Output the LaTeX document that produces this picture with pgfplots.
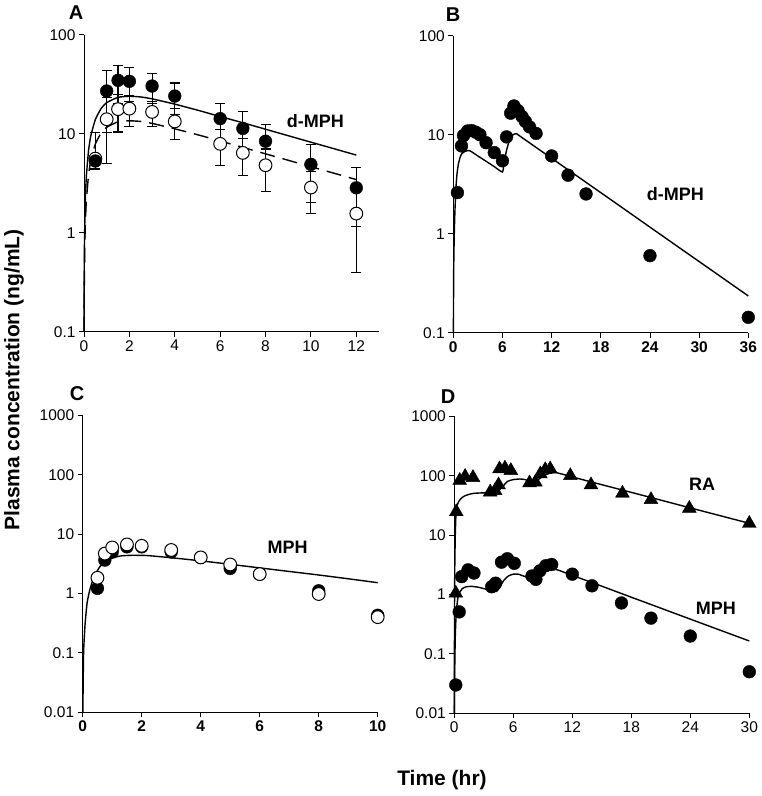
\documentclass[border=0pt]{standalone}
\usepackage{pgfplots}
\pgfplotsset{compat=1.18}
\usepackage{fontspec}
\setmainfont{Liberation Sans}
\pgfplotsset{
  mypanel/.style={
    scale only axis, width=295pt, height=297pt,
    anchor=south west,
    axis x line*=bottom, axis y line*=left,
    axis line style={-, line width=0.9pt},
    tick align=outside, major tick length=5pt,
    tick style={line width=0.9pt, black},
    yminorticks=false, xminorticks=false,
    tick label style={font=\fontsize{15.5}{17}\selectfont},
    clip=false,
  },
  myfit/.style={black, line width=1.4pt, no marks, smooth, tension=0.3},
  myfc/.style={only marks, mark=*, mark size=6.4pt, mark options={fill=black, draw=black}},
  myoc/.style={only marks, mark=*, mark size=6.4pt, mark options={fill=white, draw=black, line width=1pt}},
  myeb/.style={error bars/.cd, y dir=both, y explicit,
     error bar style={line width=1.1pt, black},
     error mark options={rotate=90, mark size=5pt, line width=1.1pt, black}},
}
\newcommand{\lab}{\fontsize{18}{20}\selectfont\bfseries}
\newcommand{\bigtitle}{\fontsize{21}{23}\selectfont\bfseries}
\begin{document}
\begin{tikzpicture}
\useasboundingbox (0,0) rectangle (762pt,796pt);

% ---------------- Panel A ----------------
\begin{axis}[mypanel, ymode=log, at={(84pt,464.3pt)},
  xmin=0, xmax=13, ymin=0.1, ymax=100,
  xtick={0,2,4,6,8,10,12}, xticklabels={0,2,4,6,8,10,12},
  ytick={0.1,1,10,100}, yticklabels={0.1,1,10,100}]
\addplot[myfit] coordinates {(0.0026,0.1)(0.01,0.384)(0.02,0.762)(0.05,1.87)(0.1,3.61)(0.2,6.76)(0.3,9.51)(0.5,13.9)(0.75,17.9)(1,20.6)(1.5,23.3)(2,23.9)(2.5,23.5)(3,22.5)(4,19.9)(5,17.3)(6,14.9)(7,12.9)(8,11.1)(9,9.54)(10,8.21)(11,7.07)(12,6.08)};
\addplot[myfit, dash pattern=on 15pt off 8pt] coordinates {(0.0046,0.1)(0.01,0.217)(0.02,0.431)(0.05,1.06)(0.1,2.04)(0.2,3.82)(0.3,5.37)(0.5,7.88)(0.75,10.1)(1,11.6)(1.5,13.2)(2,13.5)(2.5,13.3)(3,12.7)(4,11.2)(5,9.77)(6,8.44)(7,7.27)(8,6.26)(9,5.39)(10,4.64)(11,4.0)(12,3.44)};
\addplot[myoc, myeb] coordinates {
 (0.5,5.6) += (0,4.6) -= (0,0)
 (1,14) +- (0,9)
 (1.5,17.7) +- (0,7.3)
 (2,17.9) +- (0,6.2)
 (3,16.6) +- (0,4.7)
 (4,13.3) +- (0,4.6)
 (6,7.9) +- (0,3.1)
 (7,6.4) +- (0,2.6)
 (8,4.8) +- (0,2.2)
 (10,2.86) +- (0,1.3)
 (12,1.56) +- (0,1.16)};
\addplot[myfc, myeb] coordinates {
 (0.5,5.3) +- (0,0.9)
 (1,27) +- (0,16.7)
 (1.5,34.6) +- (0,14.5)
 (2,33.8) +- (0,12.7)
 (3,30.3) +- (0,10)
 (4,24) +- (0,8.5)
 (6,14.2) +- (0,5.9)
 (7,11.3) +- (0,5.3)
 (8,8.4) +- (0,4)
 (10,4.9) +- (0,2.9)
 (12,2.84) +- (0,1.68)};
\node[font=\lab] at (axis cs:10.2,13.3) {d-MPH};
\end{axis}

% ---------------- Panel B ----------------
\begin{axis}[mypanel, ymode=log, at={(453.3pt,463.3pt)},
  xmin=0, xmax=36, ymin=0.1, ymax=100,
  xtick={0,6,12,18,24,30,36}, xticklabels={0,6,12,18,24,30,36},
  x tick label style={font=\fontsize{15.5}{17}\selectfont\bfseries},
  ytick={0.1,1,10,100}, yticklabels={0.1,1,10,100}]
\addplot[myfit] coordinates {(0.01,0.1)(0.05,0.45)(0.12,1.0)(0.2,1.7)(0.32,2.9)(0.45,4.0)(0.61,5.0)(0.8,5.8)(1.0,6.35)(1.3,6.7)(1.6,6.85)(2.0,6.9)(3,6.1)(4,5.39)(5,4.76)(6.0,4.2)(6.2,5.3)(6.4,6.4)(6.7,8.0)(7.0,9.3)(7.3,10.0)(7.7,10.25)(8,9.85)(10,7.54)(12,5.78)(16,3.39)(20,1.99)(24,1.165)(28,0.683)(32,0.401)(36,0.235)};
\addplot[myfc] coordinates {(0.5,2.6)(1,7.7)(1.25,9.8)(1.75,10.9)(2.25,11)(2.75,10.6)(3.25,10.0)(4,8.3)(5,6.6)(6,5.45)(6.5,9.5)(7,16.5)(7.4,19.5)(7.9,17.5)(8.4,15.2)(8.8,13.6)(9.3,12)(10.1,10.3)(12,6.1)(14,3.9)(16.2,2.52)(24,0.6)(36,0.143)};
\node[font=\lab] at (axis cs:27.1,2.54) {d-MPH};
\end{axis}

% ---------------- Panel C ----------------
\begin{axis}[mypanel, ymode=log, at={(82.7pt,83.7pt)},
  xmin=0, xmax=10, ymin=0.01, ymax=1000,
  xtick={0,2,4,6,8,10}, xticklabels={0,2,4,6,8,10},
  x tick label style={font=\fontsize{15.5}{17}\selectfont\bfseries},
  ytick={0.01,0.1,1,10,100,1000}, yticklabels={0.01,0.1,1,10,100,1000}]
\addplot[myfit] coordinates {(0.005,0.01)(0.03,0.1)(0.08,0.3)(0.15,0.7)(0.25,1.2)(0.4,2.0)(0.6,2.9)(0.8,3.5)(1.0,3.95)(1.3,4.3)(1.7,4.4)(2.2,4.35)(3,4.0)(4,3.55)(5,3.1)(6,2.7)(7,2.35)(8,2.05)(9,1.77)(10,1.52)};
\addplot[myfc] coordinates {(0.5,1.22)(0.75,3.65)(1,5.0)(1.5,6.1)(2,6.1)(3,5.0)(4,4.05)(5,2.64)(6,2.12)(8,1.11)(10,0.43)};
\addplot[myoc] coordinates {(0.5,1.84)(0.75,4.7)(1,5.96)(1.5,6.7)(2,6.35)(3,5.4)(4,4.05)(5,3.08)(6,2.12)(8,0.98)(10,0.40)};
\node[font=\lab] at (axis cs:6.95,6.0) {MPH};
\end{axis}

% ---------------- Panel D ----------------
\begin{axis}[mypanel, ymode=log, at={(454.3pt,82.7pt)},
  xmin=0, xmax=30, ymin=0.01, ymax=1000,
  xtick={0,6,12,18,24,30}, xticklabels={0,6,12,18,24,30},
  ytick={0.01,0.1,1,10,100,1000}, yticklabels={0.01,0.1,1,10,100,1000}]
\addplot[myfit] coordinates {(0.005,0.01)(0.02,0.5)(0.05,3)(0.1,10)(0.17,22)(0.3,32)(0.5,38)(0.8,43)(1.1,46)(1.5,48.5)(2,50.5)(3,51.5)(3.6,51.5)(4.0,51)(4.3,52)(4.6,58)(5.0,68)(5.4,80)(6.0,86)(6.7,88)(7.2,86)(7.6,82)(8.0,80)(8.3,81)(8.7,90)(9.2,102)(9.7,110)(10.3,113)(11,106)(12,95.3)(15,70.6)(18,52.4)(21,38.8)(24,28.7)(27,21.3)(30,15.8)};
\addplot[myfit] coordinates {(0.01,0.01)(0.04,0.05)(0.1,0.2)(0.2,0.5)(0.35,0.85)(0.5,1.05)(0.8,1.25)(1.2,1.35)(1.8,1.37)(2.5,1.32)(3.2,1.23)(4.0,1.14)(4.3,1.13)(4.6,1.3)(5.0,1.7)(5.5,2.05)(6.0,2.2)(6.5,2.2)(7.2,2.0)(7.9,1.82)(8.2,1.85)(8.6,2.15)(9.0,2.45)(9.5,2.6)(10.0,2.66)(10.5,2.6)(12,2.1)(15,1.38)(18,0.9)(21,0.589)(24,0.385)(27,0.252)(30,0.165)};
\addplot[only marks, mark=triangle*, mark size=8pt, mark options={fill=black, draw=black}] coordinates {(0.15,1.05)(0.2,24.7)(0.55,83)(1.1,97)(1.9,93)(3.65,53)(4.15,56)(4.5,70)(4.6,130)(5.15,134)(5.75,122)(7.65,75.5)(8.25,77.6)(8.75,107)(9.25,126)(9.75,130)(11.8,100)(13.9,70)(17.1,50.6)(20.0,39.5)(23.9,28.2)(30,15.7)};
\addplot[myfc] coordinates {(0.15,0.03)(0.5,0.51)(0.75,2.0)(1.4,2.6)(2.0,2.3)(3.8,1.35)(4.2,1.55)(4.8,3.5)(5.4,4.0)(6.1,3.35)(7.9,2.05)(8.3,1.8)(8.7,2.5)(9.3,3.05)(9.9,3.2)(12,2.2)(14,1.4)(17,0.72)(20,0.4)(24,0.2)(30,0.05)};
\node[font=\lab] at (axis cs:25.2,72.6) {RA};
\node[font=\lab] at (axis cs:26.6,0.59) {MPH};
\end{axis}

% ---------------- Panel letters and axis titles ----------------
\node[font=\fontsize{20}{22}\selectfont\bfseries] at (76pt,783pt) {A};
\node[font=\fontsize{20}{22}\selectfont\bfseries] at (453pt,781pt) {B};
\node[font=\fontsize{20}{22}\selectfont\bfseries] at (77pt,402pt) {C};
\node[font=\fontsize{20}{22}\selectfont\bfseries] at (448pt,399pt) {D};
\node[font=\bigtitle, rotate=90] at (14pt,416pt) {Plasma concentration (ng/mL)};
\node[font=\bigtitle] at (442pt,16pt) {Time (hr)};
\end{tikzpicture}
\end{document}
